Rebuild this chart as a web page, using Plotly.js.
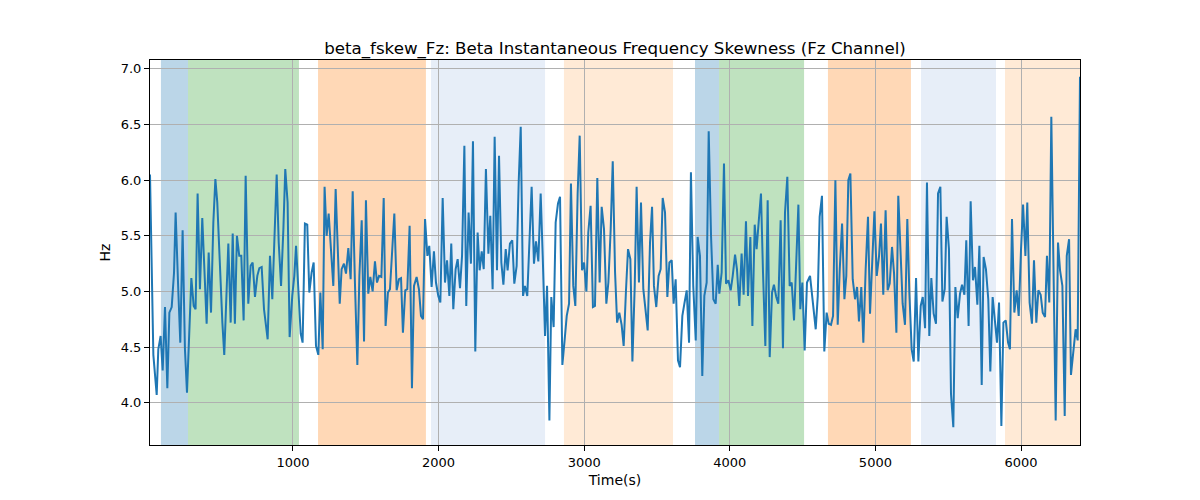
<!DOCTYPE html>
<html>
<head>
<meta charset="utf-8">
<script src="https://cdn.plot.ly/plotly-3.0.1.min.js"></script>
<style>html,body{margin:0;padding:0;background:#fff;}#chart{width:1200px;height:500px;}</style>
</head>
<body>
<div id="chart"></div>
<script>
const timeS = [18,41,64,75,91,105,121,137,151,167,183,194,212,226,242,258,272,286,302,318,331,345,361,377,407,421,437,453,467,480,499,515,528,542,556,572,586,601,615,631,645,661,
675,693,709,723,739,755,769,785,801,826,842,858,874,888,902,918,934,947,963,977,995,1009,1021,1037,1053,1066,1082,1098,1112,1128,1142,1158,1174,1188,1204,1217,1231,1245,1259,1277,1293,
1307,1321,1334,1350,1364,1380,1396,1410,1426,1442,1456,1472,1488,1501,1517,1531,1547,1563,1577,1591,1607,1623,1636,1652,1666,1682,1696,1712,1728,1742,1755,1771,1785,1801,1817,1831,1849,1865,1879,1893,1907,1923,1936,
1952,1968,1982,1998,2012,2028,2044,2058,2074,2087,2101,2117,2131,2147,2161,2177,2190,2206,2222,2236,2252,2268,2282,2296,2310,2325,2342,2355,2371,2385,2401,2415,2431,2445,2461,2474,2490,2506,2520,2536,2550,2564,2580,2593,2609,
2623,2639,2655,2669,2685,2701,2715,2731,2745,2761,2774,2790,2804,2820,2834,2850,2866,2880,2896,2909,2925,2939,2955,2969,2985,2999,3015,3028,3044,3060,3074,3090,3106,3120,3136,3152,3166,3182,3196,3212,3226,
3241,3257,3271,3287,3301,3317,3331,3347,3360,3376,3390,3406,3422,3436,3452,3466,3479,3495,3511,3525,3539,3555,3571,3585,3601,3614,3628,3644,3658,3674,3688,3704,3720,3733,3749,3766,3779,3795,3811,3825,3841,3855,3871,3887,3903,3917,
3928,3944,3960,3974,3990,4006,4020,4036,4049,4065,4081,4095,4111,4125,4141,4155,4171,4184,4198,4214,4228,4244,4260,4274,4290,4303,4319,4333,4349,4365,4379,4395,4411,4425,4441,4455,4471,4484,4498,4514,4530,
4551,4562,4576,4590,4604,4617,4633,4649,4665,4679,4695,4709,4725,4741,4755,4771,4787,4800,4814,4828,4844,4860,4874,4887,4903,4917,4933,4949,4963,4979,4993,5009,5025,5038,5054,5070,5084,5098,5114,5128,5144,5157,5173,5187,5203,5219,
5233,5249,5263,5279,5295,5311,5325,5341,5354,5370,5384,5400,5416,5430,5446,5460,5476,5489,5505,5519,5535,5549,5565,5581,5595,5611,5624,5640,5654,5670,5684,5700,5714,5730,5743,5759,5775,5789,5805,5819,5835,5849,5865,
5879,5895,5911,5924,5938,5954,5970,5984,6000,6014,6030,6043,6059,6075,6089,6105,6119,6135,6149,6165,6178,6194,6208,6224,6238,6254,6268,6284,6300,6314,6330,6343,6359,6375,6389,6405];

const skewHz = [6.05,4.43,4.07,4.48,4.60,4.29,4.86,4.13,4.81,4.86,5.17,5.71,5.02,4.54,5.55,4.48,4.09,4.54,5.12,4.87,4.84,5.88,5.02,5.66,4.71,5.35,4.81,5.62,6.01,5.80,5.14,4.72,4.43,5.02,5.43,4.72,5.52,4.71,5.50,5.32,5.32,4.74,
6.04,4.89,5.23,5.26,4.95,5.14,5.21,5.22,4.84,4.57,5.32,4.93,5.44,6.05,5.44,5.05,5.56,6.10,5.80,4.59,4.96,5.14,5.41,5.02,4.62,4.54,5.61,5.60,4.99,5.17,5.26,4.51,4.43,4.99,4.48,5.94,5.50,5.70,5.44,5.05,5.92,
5.32,4.89,5.20,5.25,5.16,5.39,5.11,5.90,5.05,4.34,5.14,5.64,4.55,5.82,4.98,5.13,5.00,5.27,5.08,5.14,5.13,5.84,4.69,4.99,5.02,5.41,5.70,5.01,5.11,5.12,4.63,5.01,5.02,5.59,4.13,5.05,5.13,5.02,4.78,4.75,5.65,5.32,5.41,
5.04,5.36,5.08,4.96,4.90,5.84,5.08,5.28,4.96,5.43,4.84,5.20,5.29,5.03,5.32,6.31,4.87,5.71,5.25,6.35,4.46,5.53,5.19,5.36,5.20,6.10,5.34,5.68,5.02,6.39,5.19,6.22,5.26,5.06,5.38,5.19,5.43,5.46,5.07,5.23,5.98,6.48,4.96,5.05,4.96,
5.41,5.94,5.25,5.45,5.27,5.88,5.32,4.60,5.05,3.84,4.95,4.68,5.62,5.79,5.85,4.34,4.57,4.78,4.89,5.97,5.05,4.87,5.88,6.40,5.19,5.26,5.00,5.53,5.77,4.86,4.87,6.02,5.08,5.76,5.56,4.89,5.08,5.56,6.17,5.17,4.72,
4.81,4.70,4.51,5.01,5.38,5.29,4.37,5.05,5.94,5.08,5.80,5.02,4.84,4.65,5.44,5.76,5.05,4.86,5.14,5.20,5.84,5.71,4.95,5.26,5.28,4.89,5.11,4.38,4.32,4.78,4.89,5.01,4.54,6.07,5.05,4.56,5.49,5.32,4.24,4.96,5.08,6.44,5.50,4.93,4.89,5.24,
4.98,5.17,6.15,5.07,5.10,5.01,5.14,5.33,5.20,4.87,5.34,4.97,5.63,4.96,5.49,4.69,5.60,5.38,5.62,5.88,5.17,4.51,5.82,4.41,4.99,5.06,4.95,4.89,5.64,4.49,5.71,6.03,5.05,5.08,4.74,5.25,5.78,4.84,5.08,4.47,5.08,
5.14,5.01,4.80,4.66,4.96,5.67,5.86,4.46,4.81,4.71,4.70,4.78,6.00,4.70,5.20,5.61,4.93,5.14,6.00,6.06,5.11,4.93,5.04,4.73,5.04,4.54,5.20,5.67,4.80,5.37,5.72,5.14,5.32,5.61,4.97,5.73,5.01,5.07,5.40,5.16,4.63,5.86,5.35,4.89,4.70,5.65,
4.99,4.48,4.37,5.12,4.37,4.87,4.95,4.67,5.98,4.60,5.12,4.80,4.71,5.88,5.94,4.91,5.02,5.67,5.38,4.08,3.78,5.04,4.76,4.98,5.06,4.97,5.46,4.69,5.81,5.10,5.22,4.88,5.41,4.16,5.31,5.20,4.93,4.28,4.95,4.78,4.54,4.90,3.79,
4.72,4.74,4.54,4.48,5.65,4.81,5.01,4.78,5.38,5.78,5.32,5.80,4.90,4.71,5.28,4.72,5.01,4.97,4.81,4.77,5.32,4.90,6.57,5.02,3.84,5.44,5.19,5.05,3.88,5.32,5.47,4.25,4.43,4.66,4.56,6.93];

// Shaded intervals (seconds)
const bandStart = [93, 279, 1172, 1948, 2861, 3761, 3926, 4674, 5313, 5890];
const bandEnd   = [279, 1041, 1913, 2731, 3610, 3926, 4510, 5244, 5828, 6405];
const bandColor = ['#1f77b4','#2ca02c','#ff7f0e','#aec7e8','#ffbb78','#1f77b4','#2ca02c','#ff7f0e','#aec7e8','#ffbb78'];

const xTicks = [1000, 2000, 3000, 4000, 5000, 6000];
const yTicks = [4.0, 4.5, 5.0, 5.5, 6.0, 6.5, 7.0];

const shapes = bandStart.map((s, i) => ({
  type: 'rect', xref: 'x', yref: 'paper', x0: s, x1: bandEnd[i], y0: 0, y1: 1,
  fillcolor: bandColor[i], opacity: 0.3, line: {width: 0}, layer: 'below'
}));

const trace = {
  x: timeS, y: skewHz, type: 'scatter', mode: 'lines',
  line: {color: '#1f77b4', width: 2}, hoverinfo: 'x+y'
};

const font = {family: 'DejaVu Sans, sans-serif', color: '#000'};
const layout = {
  width: 1200, height: 500,
  margin: {l: 150, r: 120, t: 60, b: 55},
  paper_bgcolor: '#fff', plot_bgcolor: 'rgba(0,0,0,0)',
  font: Object.assign({size: 14}, font),
  showlegend: false,
  title: {text: 'beta_fskew_Fz: Beta Instantaneous Frequency Skewness (Fz Channel)',
    font: Object.assign({size: 16.67}, font), x: 0.5, xref: 'paper', xanchor: 'center',
    y: 1, yref: 'paper', yanchor: 'bottom', pad: {b: 6}},
  xaxis: {
    range: [18, 6405], tickvals: xTicks, ticktext: xTicks.map(String),
    showgrid: true, gridcolor: '#b0b0b0', gridwidth: 1, zeroline: false,
    showline: true, mirror: true, linecolor: '#000', linewidth: 1,
    ticks: 'outside', ticklen: 5, tickwidth: 1, tickcolor: '#000',
    tickfont: Object.assign({size: 13}, font),
    title: {text: 'Time(s)', font: Object.assign({size: 14}, font), standoff: 6}
  },
  yaxis: {
    range: [3.62, 7.08], tickvals: yTicks, ticktext: yTicks.map(v => v.toFixed(1)),
    showgrid: true, gridcolor: '#b0b0b0', gridwidth: 1, zeroline: false,
    showline: true, mirror: true, linecolor: '#000', linewidth: 1,
    ticks: 'outside', ticklen: 5, tickwidth: 1, tickcolor: '#000',
    tickfont: Object.assign({size: 13}, font),
    title: {text: 'Hz', font: Object.assign({size: 14}, font), standoff: 6}
  },
  shapes: shapes
};

Plotly.newPlot('chart', [trace], layout, {displayModeBar: false, staticPlot: true});
</script>
</body>
</html>
